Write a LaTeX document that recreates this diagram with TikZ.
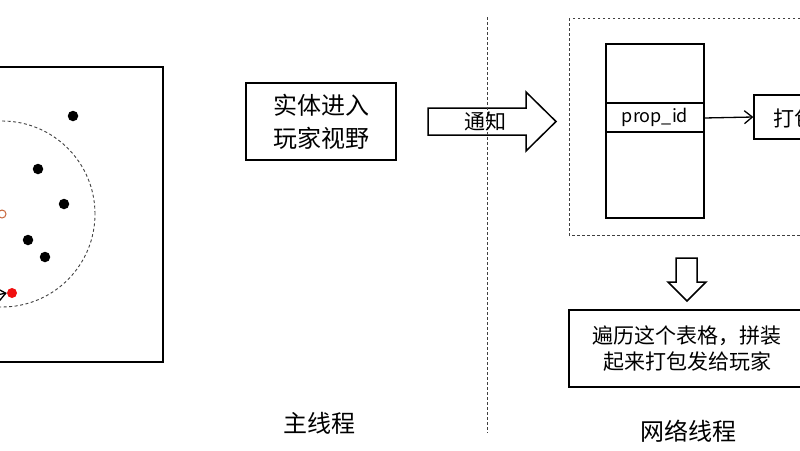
\documentclass[tikz,border=0pt]{standalone}
\usepackage{fontspec}
\setmainfont{Noto Sans CJK SC}
\usetikzlibrary{arrows.meta}
\definecolor{ringc}{HTML}{C8663C}
\definecolor{reddot}{HTML}{F01010}
\begin{document}
\begin{tikzpicture}[x=1pt,y=-1pt,
  box/.style={draw,line width=1.5pt},
  thinbox/.style={draw,line width=1.3pt},
  dotline/.style={draw=black!75,dash pattern=on 2.5pt off 2.5pt,line width=0.9pt},
  entity/.style={circle,fill=black,inner sep=0pt,minimum size=10.5pt},
  big/.style={font=\fontsize{24}{33}\selectfont},
  mid/.style={font=\fontsize{21}{26}\selectfont},
  small/.style={font=\fontsize{18}{22}\selectfont},
  barb/.style={-{Straight Barb[length=8pt,width=13pt,line width=1.3pt]},line width=1.3pt}]
\useasboundingbox (0,0) rectangle (800,450);
\clip (0,0) rectangle (800,450);
\fill[white] (0,0) rectangle (800,450);
% left: world frame
\node[box,minimum width=223pt,minimum height=295pt,inner sep=0pt] (world) at (51.5,214.5) {};
\draw[dotline,dash pattern=on 3pt off 2.5pt] (2,214) circle[radius=93pt];
\node[entity] (e1) at (73,116) {};
\node[entity] (e2) at (38,169) {};
\node[entity] (e3) at (64,204) {};
\node[entity] (e4) at (28,240) {};
\node[entity] (e5) at (45,257) {};
\node[circle,draw=ringc,line width=1pt,inner sep=0pt,minimum size=8pt] (me) at (2,214) {};
\node[circle,fill=reddot,inner sep=0pt,minimum size=10pt] (red) at (12,293) {};
\coordinate (from) at (-40,302);
\draw[barb] (from) -- (red.west);
% entity enters view
\node[box,big,minimum width=150pt,minimum height=77pt,align=center] (enter) at (321,121.5) {实体进入\\玩家视野};
% notify arrow
\draw[line width=1.5pt,fill=white] (428,108) -- (526,108) -- (526,92) -- (556,121.5) -- (526,151) -- (526,135) -- (428,135) -- cycle;
% divider
\coordinate (vtop) at (487,17);
\coordinate (vbot) at (487,433);
\draw[dotline] (vtop) -- (vbot);
\node[mid] (notify) at (485,121.5) {通知};
% network side
\draw[dotline] (569,18) rectangle (830,235);
\node[thinbox,minimum width=98pt,minimum height=174pt,inner sep=0pt] (table) at (655,131) {};
\draw[line width=1.3pt] (606,103) -- (704,103);
\draw[line width=1.3pt] (606,132) -- (704,132);
\node[small] (prop) at (655,117.5) {prop\_id};
\node[thinbox,minimum width=90pt,minimum height=44pt,inner sep=0pt] (pack) at (799,117) {};
\node[mid,anchor=west,inner sep=0pt] (packtxt) at (773,118) {打包};
\draw[barb] (704,118) -- (pack.west);
% down arrow
\draw[line width=1.5pt,fill=white] (676,258) -- (697,258) -- (697,282) -- (706,282) -- (687,301) -- (668,282) -- (676,282) -- cycle;
\node[box,mid,minimum width=236pt,minimum height=77pt,align=center] (build) at (687,348.5) {遍历这个表格，拼装\\起来打包发给玩家};
% thread labels
\node[big] (mainlbl) at (319,423) {主线程};
\node[big] (netlbl) at (688,431) {网络线程};
\end{tikzpicture}
\end{document}
